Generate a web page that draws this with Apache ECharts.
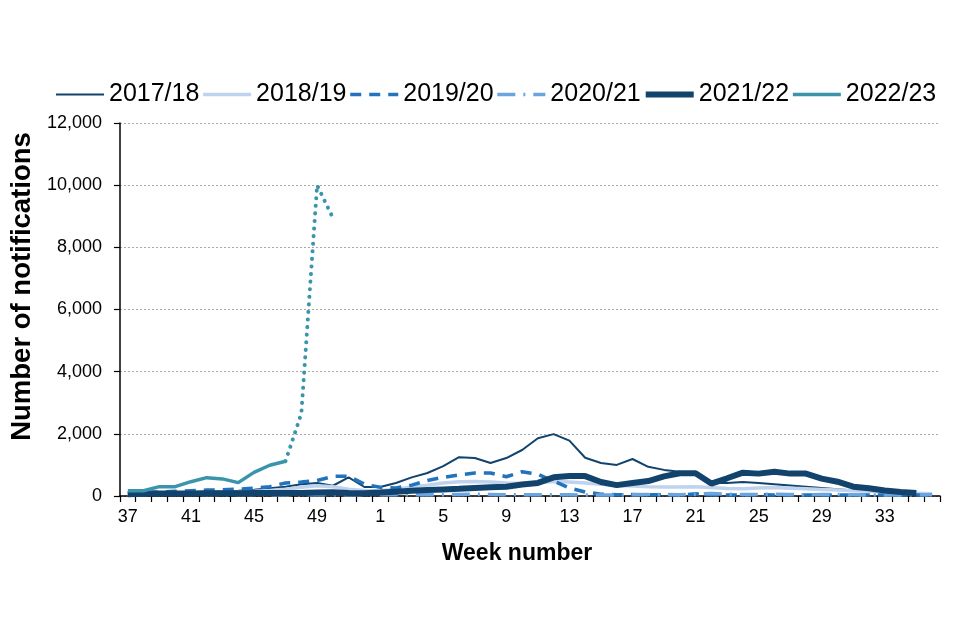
<!DOCTYPE html>
<html>
<head>
<meta charset="utf-8">
<script src="https://cdn.jsdelivr.net/npm/echarts@6/dist/echarts.min.js"></script>
<style>
html,body{margin:0;padding:0;background:#fff;}
#chart{width:960px;height:640px;}
</style>
</head>
<body>
<div id="chart"></div>
<script>
// Week numbers (37..52, then 1..36)
const weeks = ['37','38','39','40','41','42','43','44','45','46','47','48','49','50','51','52',
  '1','2','3','4','5','6','7','8','9','10','11','12','13','14','15','16','17','18','19','20',
  '21','22','23','24','25','26','27','28','29','30','31','32','33','34','35','36'];

const s2017 = [90,100,110,120,130,140,150,170,200,250,300,380,420,330,600,290,
  290,420,600,740,960,1250,1220,1060,1220,1480,1860,1990,1780,1230,1060,1000,1190,940,840,780,
  740,420,420,450,420,380,340,300,260,220,180,150,120,100,80,60];

const s2018 = [60,70,80,90,100,110,120,130,150,180,220,280,330,300,220,180,
  170,220,290,350,420,460,470,450,420,400,430,470,450,420,380,340,320,300,290,290,
  300,270,240,230,260,270,250,230,210,190,170,150,130,110,90,70];

const s2019 = [100,120,130,150,170,190,200,220,250,300,420,450,500,630,640,380,
  280,260,350,500,600,680,740,740,620,780,700,480,260,130,60,40,50,40,40,30,
  70,40,30,30,40,30,30,30,30,30,30,30,30,30,30,30];

const s2020 = [50,50,60,60,60,50,50,50,50,40,40,40,40,40,40,40,
  40,40,40,40,40,50,60,50,40,40,40,40,40,30,30,30,40,50,50,40,
  60,80,60,50,50,60,50,40,50,50,40,30,30,30,40,40];

const s2021 = [60,70,80,80,80,90,90,90,100,100,100,100,110,120,100,90,
  110,140,170,190,210,230,260,280,300,370,420,600,640,640,450,350,420,480,630,730,
  730,400,570,750,720,780,720,720,560,460,300,250,180,130,100,null];

const s2022 = [170,170,300,300,460,590,550,430,760,990,1120];

const s2022prov = [null,null,null,null,null,null,null,null,null,null,1120,2650,10000,8950];

const yTicks = {min: 0, max: 12000, interval: 2000};

const seriesNames = ['2017/18','2018/19','2019/20','2020/21','2021/22','2022/23'];
const seriesColors = ['#12436D','#BFD3EE','#2073BC','#6BA5E0','#12436D','#3A95AC'];
const seriesWidths = [2, 3.5, 3.5, 3.5, 6, 3.5];
const seriesDashes = ['solid','solid',[11, 8],[18, 8, 2, 8],'solid','solid'];
const seriesData = [s2017, s2018, s2019, s2020, s2021, s2022];

const chart = echarts.init(document.getElementById('chart'), null, {renderer: 'canvas'});
const FONT = 'Liberation Sans, Arial, sans-serif';

const series = seriesNames.map(function (n, i) {
  return {
    name: n, type: 'line', data: seriesData[i], symbol: 'none', showSymbol: false,
    lineStyle: {color: seriesColors[i], width: seriesWidths[i], type: seriesDashes[i]},
    itemStyle: {color: seriesColors[i]},
    emphasis: {disabled: true}
  };
});
series.push({
  name: '2022/23 provisional', type: 'line', data: s2022prov, symbol: 'none', showSymbol: false,
  lineStyle: {color: '#3A95AC', width: 4, type: [0.1, 7.5], cap: 'round'},
  itemStyle: {color: '#3A95AC'},
  emphasis: {disabled: true}
});

chart.setOption({
  animation: false,
  backgroundColor: '#ffffff',
  textStyle: {fontFamily: FONT, color: '#000'},
  legend: {
    data: seriesNames.map(function (n, i) {
      return {name: n, itemStyle: {opacity: 0},
        lineStyle: {width: seriesWidths[i], color: seriesColors[i], type: seriesDashes[i]}};
    }),
    top: 77, left: 50,
    itemWidth: 48, itemHeight: 14, itemGap: 2,
    textStyle: {fontSize: 25, color: '#000', fontFamily: FONT}
  },
  grid: {left: 113, right: 20, top: 123, bottom: 144, containLabel: false},
  xAxis: {
    type: 'category', data: weeks, boundaryGap: true,
    name: 'Week number', nameLocation: 'middle', nameGap: 46,
    nameTextStyle: {fontSize: 23, fontWeight: 'bold', color: '#000', fontFamily: FONT, padding: [0, 26, 0, 0]},
    axisLine: {lineStyle: {color: '#000', width: 1.5}},
    axisTick: {show: true, interval: 0, length: 6, lineStyle: {color: '#000', width: 1.2}},
    axisLabel: {interval: 3, fontSize: 18, color: '#000', margin: 12, fontFamily: FONT},
    splitLine: {show: false}
  },
  yAxis: {
    type: 'value', min: yTicks.min, max: yTicks.max, interval: yTicks.interval,
    name: 'Number of notifications', nameLocation: 'middle', nameGap: 82, nameRotate: 90,
    nameTextStyle: {fontSize: 27.5, fontWeight: 'bold', color: '#000', fontFamily: FONT, padding: [0,0,0,46]},
    axisLine: {show: true, lineStyle: {color: '#000', width: 1.5}},
    axisTick: {show: true, length: 6, lineStyle: {color: '#000', width: 1.2}},
    axisLabel: {fontSize: 18, color: '#000', margin: 18, fontFamily: FONT,
      formatter: function (v) { return v.toLocaleString('en-GB'); }},
    splitLine: {show: true, lineStyle: {color: '#a6a6a6', type: [2, 2], width: 1}}
  },
  series: series
});
</script>
</body>
</html>
